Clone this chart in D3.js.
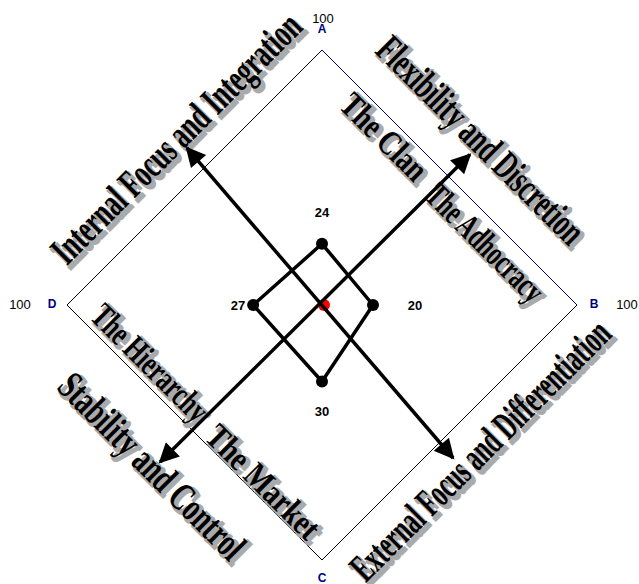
<!DOCTYPE html>
<html>
<head>
<meta charset="utf-8">
<script src="https://cdn.jsdelivr.net/npm/d3@7"></script>
<style>
  body { margin: 0; background: #fff; }
  svg { display: block; }
</style>
</head>
<body>
<div id="chart"></div>
<script>
// culture profile values, one per axis
var axisNames = ["A", "B", "C", "D"];
var scores = [24, 20, 30, 27];
var axisMax = [100, 100, 100, 100];

// quadrant culture names and the dimension captions
var cultures = ["The Clan", "The Adhocracy", "The Market", "The Hierarchy"];
var dimensions = ["Internal Focus and Integration", "Flexibility and Discretion",
                  "External Focus and Differentiation", "Stability and Control"];

var W = 639, H = 584;
var cx = 322, cy = 305;

var svg = d3.select("#chart").append("svg")
    .attr("width", W).attr("height", H);

var r = d3.scaleLinear().domain([0, 100]).range([0, 255]);

// direction of each axis: A up, B right, C down, D left
var dirs = [[0, -1], [1, 0], [0, 1], [-1, 0]];
function pt(i, v) { return [cx + dirs[i][0] * r(v), cy + dirs[i][1] * r(v)]; }

var defs = svg.append("defs");
defs.append("marker")
    .attr("id", "head")
    .attr("viewBox", "0 0 10 10")
    .attr("refX", 9).attr("refY", 5)
    .attr("markerUnits", "userSpaceOnUse")
    .attr("markerWidth", 22).attr("markerHeight", 20)
    .attr("orient", "auto-start-reverse")
    .append("path").attr("d", "M0,0 L10,5 L0,10 Z").attr("fill", "#000");

// outer diamond, A-B edge is navy
var outer = axisNames.map(function(d, i) { return pt(i, axisMax[i]); });
for (var i = 0; i < 4; i++) {
  var p = outer[i], q = outer[(i + 1) % 4];
  svg.append("line")
     .attr("x1", p[0]).attr("y1", p[1]).attr("x2", q[0]).attr("y2", q[1])
     .attr("stroke", i == 0 ? "#000080" : "#000").attr("stroke-width", 1);
}

// shadowed condensed captions
function caption(txt, x, y, angle, size, len) {
  var g = svg.append("g");
  g.append("text")
    .attr("transform", "translate(" + (x + 3) + "," + (y + 3) + ") rotate(" + angle + ")")
    .attr("text-anchor", "middle").attr("dominant-baseline", "central")
    .attr("font-family", "Liberation Serif, Times New Roman, serif")
    .attr("font-weight", "bold").attr("font-size", size)
    .attr("textLength", len).attr("lengthAdjust", "spacingAndGlyphs")
    .attr("fill", "#aaa").attr("stroke", "#aaa").attr("stroke-width", 4)
    .attr("stroke-linejoin", "miter")
    .text(txt);
  g.append("text")
    .attr("transform", "translate(" + x + "," + y + ") rotate(" + angle + ")")
    .attr("text-anchor", "middle").attr("dominant-baseline", "central")
    .attr("font-family", "Liberation Serif, Times New Roman, serif")
    .attr("font-weight", "bold").attr("font-size", size)
    .attr("textLength", len).attr("lengthAdjust", "spacingAndGlyphs")
    .attr("fill", "#000")
    .text(txt);
}

caption(dimensions[0], 176, 138, -45, 40, 336);
caption(dimensions[1], 481, 140, 45, 40, 276);
caption(dimensions[2], 480, 450, -45, 40, 350);
caption(dimensions[3], 152, 466, 45, 40, 246);

caption(cultures[0], 384, 137, 45, 35, 108);
caption(cultures[1], 485, 243, 45, 35, 152);
caption(cultures[2], 263, 482, 45, 35, 146);
caption(cultures[3], 150, 363, 45, 35, 150);

// centre dot, under the lines
svg.append("circle").attr("cx", cx + 2).attr("cy", cy).attr("r", 6).attr("fill", "#f00");

// crossing arrows (ends in value units from centre)
var arrows = [[[-63.5, 61.6], [58, -59]], [[-53, -61.6], [51.4, 60]]];
arrows.forEach(function(a) {
  svg.append("line")
     .attr("x1", cx + r(a[0][0])).attr("y1", cy + r(a[0][1]))
     .attr("x2", cx + r(a[1][0])).attr("y2", cy + r(a[1][1]))
     .attr("stroke", "#000").attr("stroke-width", 3.5)
     .attr("marker-start", "url(#head)").attr("marker-end", "url(#head)");
});

// profile polygon
var poly = scores.map(function(v, i) { return pt(i, v); });
svg.append("path")
   .attr("d", d3.line()(poly) + "Z")
   .attr("fill", "none").attr("stroke", "#000").attr("stroke-width", 3.5)
   .attr("stroke-linejoin", "round");
svg.selectAll("circle.pt").data(poly).enter().append("circle")
   .attr("class", "pt")
   .attr("cx", function(d) { return d[0]; }).attr("cy", function(d) { return d[1]; })
   .attr("r", 6).attr("fill", "#000");

// score labels
var labelDist = [93, 93, 106, 84];
scores.forEach(function(v, i) {
  svg.append("text")
     .attr("x", cx + dirs[i][0] * labelDist[i]).attr("y", cy + dirs[i][1] * labelDist[i])
     .attr("text-anchor", "middle").attr("dominant-baseline", "central")
     .attr("font-family", "Liberation Sans, Arial, sans-serif")
     .attr("font-weight", "bold").attr("font-size", 13)
     .text(v);
});

// axis letters and max values
var letterPos = [[322, 29], [594, 304], [322, 578], [52, 304]];
var maxPos = [[323, 18], [627, 304], null, [20, 304]];
axisNames.forEach(function(n, i) {
  svg.append("text")
     .attr("x", letterPos[i][0]).attr("y", letterPos[i][1])
     .attr("text-anchor", "middle").attr("dominant-baseline", "central")
     .attr("font-family", "Liberation Sans, Arial, sans-serif")
     .attr("font-weight", "bold").attr("font-size", 12)
     .attr("fill", "#000080").text(n);
  if (maxPos[i]) {
    svg.append("text")
       .attr("x", maxPos[i][0]).attr("y", maxPos[i][1])
       .attr("text-anchor", "middle").attr("dominant-baseline", "central")
       .attr("font-family", "Liberation Sans, Arial, sans-serif")
       .attr("font-size", 13).attr("fill", "#000").text(axisMax[i]);
  }
});
</script>
</body>
</html>
